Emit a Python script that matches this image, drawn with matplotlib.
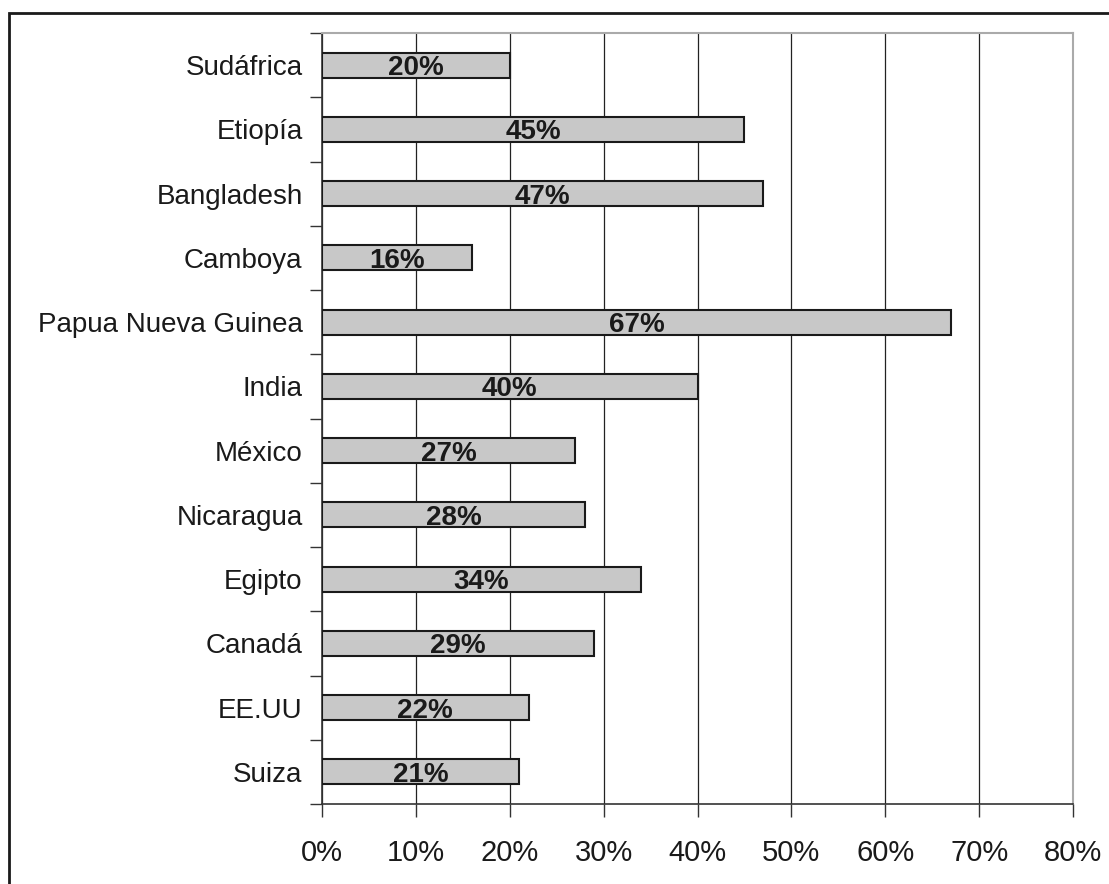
import matplotlib
matplotlib.use("Agg")
import matplotlib.pyplot as plt
from matplotlib.patches import Rectangle
from matplotlib.ticker import FixedLocator, FuncFormatter
import numpy as np

countries = ["Sudáfrica", "Etiopía", "Bangladesh", "Camboya", "Papua Nueva Guinea",
             "India", "México", "Nicaragua", "Egipto", "Canadá", "EE.UU", "Suiza"]
values = [20, 45, 47, 16, 67, 40, 27, 28, 34, 29, 22, 21]
xticks = [0, 10, 20, 30, 40, 50, 60, 70, 80]

plt.rcParams['font.family'] = ['Liberation Sans', 'DejaVu Sans']

fig = plt.figure(figsize=(11.09, 8.84), dpi=100)
ax = fig.add_axes([322/1109, 1-804/884, (1073-322)/1109, (804-33)/884])

n = len(countries)
ypos = np.arange(n)[::-1]
ax.barh(ypos, values, height=0.39, color="#c8c8c8", edgecolor="#1a1a1a", linewidth=1.5, zorder=3)
for y, v in zip(ypos, values):
    ax.text(v/2, y, f"{v}%", ha="center", va="center_baseline", fontsize=20, fontweight="bold",
            color="#1a1a1a", zorder=4)

ax.set_xlim(0, 80)
ax.set_ylim(-0.5, n-0.5)
ax.set_xticks(xticks)
ax.xaxis.set_major_formatter(FuncFormatter(lambda x, p: f"{int(x)}%"))
ax.yaxis.set_major_locator(FixedLocator(np.arange(-0.5, n, 1.0)))
ax.yaxis.set_major_formatter(FuncFormatter(lambda x, p: ""))
ax.yaxis.set_minor_locator(FixedLocator(ypos))
ax.set_yticklabels(countries, minor=True)
ax.tick_params(axis="y", which="minor", length=0, pad=14, labelsize=20, labelcolor="#1a1a1a")
ax.tick_params(axis="y", which="major", length=9, width=1, color="#333333", direction="out")
ax.tick_params(axis="x", length=9, width=1, color="#333333", direction="out", pad=16,
               labelsize=21, labelcolor="#1a1a1a")

ax.grid(axis="x", color="#222222", linewidth=0.9, zorder=0)
ax.set_axisbelow(True)
for s in ["left", "bottom"]:
    ax.spines[s].set_color("#333333")
    ax.spines[s].set_linewidth(1.2)
for s in ["top", "right"]:
    ax.spines[s].set_color("#aaaaaa")
    ax.spines[s].set_linewidth(1.5)

border = Rectangle((9/1109, -0.2), 1.2, 1-13/884+0.2, transform=fig.transFigure,
                   fill=False, edgecolor="#1a1a1a", linewidth=2, clip_on=False)
fig.patches.append(border)

fig.savefig("out.png", dpi=100)
